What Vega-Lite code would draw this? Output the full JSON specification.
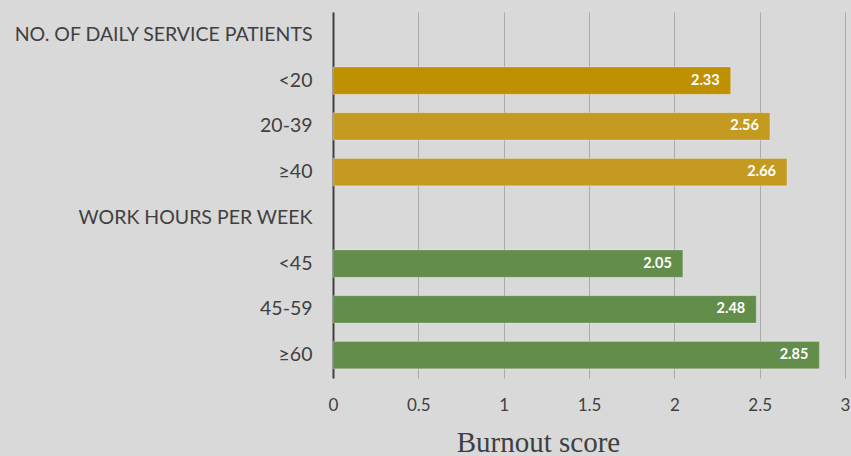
{
  "$schema": "https://vega.github.io/schema/vega-lite/v6.json",
  "width": 512,
  "height": 366,
  "autosize": {"type": "none"},
  "padding": {"left": 333, "top": 12, "right": 6, "bottom": 78},
  "background": "#d9d9d9",
  "config": {
    "view": {"stroke": null},
    "font": "Lato"
  },
  "data": {
    "values": [
      {"order": 1, "label": "NO. OF DAILY SERVICE PATIENTS", "score": null},
      {"order": 2, "label": "<20", "score": 2.33},
      {"order": 3, "label": "20-39", "score": 2.56},
      {"order": 4, "label": "≥40", "score": 2.66},
      {"order": 5, "label": "WORK HOURS PER WEEK", "score": null},
      {"order": 6, "label": "<45", "score": 2.05},
      {"order": 7, "label": "45-59", "score": 2.48},
      {"order": 8, "label": "≥60", "score": 2.85}
    ]
  },
  "encoding": {
    "y": {
      "field": "label",
      "type": "nominal",
      "sort": ["NO. OF DAILY SERVICE PATIENTS", "<20", "20-39", "≥40", "WORK HOURS PER WEEK", "<45", "45-59", "≥60"],
      "scale": {"paddingInner": 0.4, "paddingOuter": 0.2},
      "axis": {
        "title": null,
        "ticks": false,
        "domainColor": "#404040",
        "domainWidth": 2,
        "labelFont": "Lato",
        "labelFontSize": 19.5,
        "labelColor": "#404040",
        "labelPadding": 21,
        "labelLimit": 400
      }
    },
    "x": {
      "field": "score",
      "type": "quantitative",
      "scale": {"domain": [0, 3], "nice": false},
      "axis": {
        "values": [0, 0.5, 1, 1.5, 2, 2.5, 3],
        "format": "~g",
        "domain": false,
        "ticks": false,
        "grid": true,
        "gridColor": "#ababab",
        "gridWidth": 1,
        "labelFlush": false,
        "labelFont": "Lato",
        "labelFontSize": 17,
        "labelColor": "#404040",
        "labelPadding": 19,
        "title": "Burnout score",
        "titleFont": "Liberation Serif",
        "titleFontSize": 29,
        "titleFontWeight": "normal",
        "titleColor": "#404040",
        "titleX": 205,
        "titleY": 73,
        "titleAlign": "center",
        "titleBaseline": "alphabetic"
      }
    }
  },
  "layer": [
    {
      "mark": {"type": "bar", "stroke": "#ffffff", "strokeOpacity": 0.25, "strokeWidth": 1},
      "encoding": {
        "color": {
          "field": "label",
          "type": "nominal",
          "legend": null,
          "scale": {
            "domain": ["<20", "20-39", "≥40", "<45", "45-59", "≥60"],
            "range": ["#bf9000", "#c49b20", "#c49b20", "#628d4a", "#628d4a", "#628d4a"]
          }
        }
      }
    },
    {
      "mark": {"type": "text", "align": "right", "baseline": "middle", "dx": -11, "color": "#ffffff", "fontWeight": "bold", "fontSize": 14.5, "font": "Lato"},
      "encoding": {
        "text": {"field": "score", "type": "quantitative", "format": ".2f"}
      },
      "transform": [{"filter": "datum.score != null"}]
    }
  ]
}
